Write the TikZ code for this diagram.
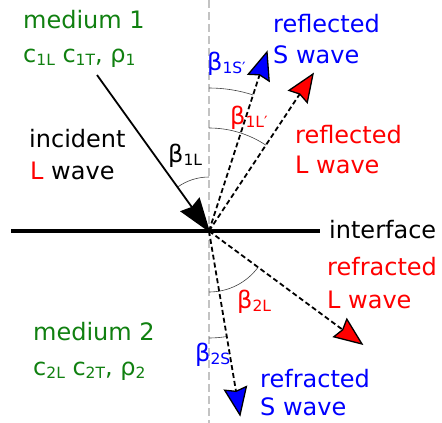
\documentclass[tikz,border=0pt]{standalone}
\usepackage{fontspec}
\setmainfont{DejaVu Sans}
\definecolor{mgreen}{RGB}{16,128,16}
\definecolor{guide}{RGB}{195,195,195}
\newcommand\sbx[1]{\raisebox{-3pt}{\fontsize{15.5}{15.5}\selectfont #1}}
\begin{document}
\begin{tikzpicture}[x=1pt,y=1pt,
  lbl/.style={anchor=base west,inner sep=0pt,font=\fontsize{24}{28}\selectfont},
  wave/.style={line width=1.8pt,dash pattern=on 5pt off 3pt,shorten >=22pt},
  headline/.style={draw=black,line width=1.3pt,solid,line join=miter},
  head/.pic={\path[headline,pic actions] (0,0) -- (-27,11) -- (-24,0) -- (-27,-11) -- cycle;},
  ihead/.pic={\path[headline,fill=black,pic actions] (0,0) -- (-32,11) -- (-29,0) -- (-32,-11) -- cycle;},
  angarc/.style={line width=0.6pt,draw=black!75}]
\useasboundingbox (0,0) rectangle (442,-423);
% guide line
\draw[guide,line width=2.8pt,dash pattern=on 8pt off 4pt] (209,0) -- (209,-423);
% interface
\coordinate (C) at (209,-231);
\coordinate (IL) at (11,-231);
\coordinate (IR) at (320,-231);
\draw[line width=4pt] (IL) -- (IR);
% endpoints
\coordinate (inc) at (97,-75);
\coordinate (rS) at (267,-52);
\coordinate (rL) at (313,-74);
\coordinate (tL) at (362,-344);
\coordinate (tS) at (240,-415);
% angle arcs
\draw[angarc] ([shift={(C)}]90:54) arc[start angle=90,end angle=125.7,radius=54];
\draw[angarc] ([shift={(C)}]90:143) arc[start angle=90,end angle=72,radius=143];
\draw[angarc] ([shift={(C)}]90:103) arc[start angle=90,end angle=56.5,radius=103];
\draw[angarc] ([shift={(C)}]-90:61) arc[start angle=-90,end angle=-36.4,radius=61];
\draw[angarc] ([shift={(C)}]-90:107) arc[start angle=-90,end angle=-80.4,radius=107];
% labels
\node[lbl,text=mgreen] (m1) at (23,-28) {medium 1};
\node[lbl,text=mgreen] (p1) at (23,-62) {c\sbx{1L} c\sbx{1T}, ρ\sbx{1}};
\node[lbl] (inc1) at (29,-147) {incident};
\node[lbl] (inc2) at (30,-179) {{\color{red}L} wave};
\node[lbl] (b1L) at (168,-162) {β\sbx{1L}};
\node[lbl,text=blue] (rs1) at (273,-32) {reflected};
\node[lbl,text=blue] (rs2) at (273,-63) {S wave};
\node[lbl,text=blue] (b1S) at (207,-70) {β\sbx{1S′}};
\node[lbl,text=red] (b1Lp) at (230,-124) {β\sbx{1L′}};
\node[lbl,text=red] (rl1) at (295,-143) {reflected};
\node[lbl,text=red] (rl2) at (295,-173) {L wave};
\node[lbl] (intf) at (329,-238) {interface};
\node[lbl,text=red] (tl1) at (327,-275) {refracted};
\node[lbl,text=red] (tl2) at (327,-308) {L wave};
\node[lbl,text=red] (b2L) at (237,-308) {β\sbx{2L}};
\node[lbl,text=blue] (b2S) at (195,-361) {β\sbx{2S}};
\node[lbl,text=blue] (ts1) at (260,-387) {refracted};
\node[lbl,text=blue] (ts2) at (260,-415) {S wave};
\node[lbl,text=mgreen] (m2) at (33,-340) {medium 2};
\node[lbl,text=mgreen] (p2) at (33,-375) {c\sbx{2L} c\sbx{2T}, ρ\sbx{2}};
% waves
\draw[line width=1.8pt,shorten >=27pt] (inc) -- (C);
\pic[rotate=-54.32] at (C) {ihead};
\draw[wave] (C) -- (rS);
\pic[rotate=72.05,fill=blue] at (rS) {head};
\draw[wave] (C) -- (rL);
\pic[rotate=56.48,fill=red] at (rL) {head};
\draw[wave] (C) -- (tL);
\pic[rotate=-36.45,fill=red] at (tL) {head};
\draw[wave] (C) -- (tS);
\pic[rotate=-80.44,fill=blue] at (tS) {head};
\end{tikzpicture}
\end{document}
